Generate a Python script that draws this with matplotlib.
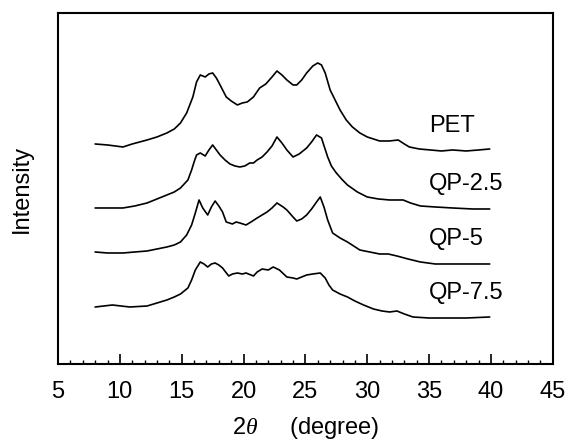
import matplotlib
matplotlib.use("Agg")
import matplotlib.pyplot as plt
from matplotlib.ticker import MultipleLocator
import numpy as np

plt.rcParams['font.family'] = ['Liberation Sans', 'DejaVu Sans']
plt.rcParams['mathtext.fontset'] = 'custom'
plt.rcParams['mathtext.it'] = 'Liberation Serif:italic'
plt.rcParams['mathtext.rm'] = 'Liberation Sans'

# 2theta readings (degree) and intensities above each curve's baseline (a.u.)
pet_x = [8.0, 9.0, 10.25, 11.0, 12.2, 13.0, 13.8, 14.4, 14.9, 15.4, 15.9, 16.2, 16.5, 16.9,
         17.2, 17.5, 17.8, 18.1, 18.6, 19.0, 19.5, 19.9, 20.3, 20.8, 21.3, 21.8, 22.3, 22.7,
         23.1, 23.5, 24.0, 24.3, 24.7, 25.1, 25.6, 26.0, 26.3, 26.6, 27.0, 27.4, 27.8, 28.3,
         28.8, 29.4, 30.0, 30.5, 31.0, 31.8, 32.5, 33.0, 33.4, 34.2, 35.1, 36.0, 36.9, 38.0,
         39.0, 39.9]
pet_y = [7, 6, 4, 7, 11, 14, 18, 22, 28, 38, 54, 69, 76, 74,
         77, 78, 73, 66, 54, 50, 46, 48, 49, 54, 63, 67, 74, 80,
         76, 71, 66, 66, 71, 78, 85, 88, 86, 78, 61, 51, 41, 31,
         24, 18, 14, 12, 10, 10, 11, 7, 4, 2, 1, 0, 1, 0,
         1, 2]

qp25_x = [8.0, 9.0, 10.25, 11.2, 12.2, 13.0, 13.8, 14.4, 14.9, 15.5, 15.8, 16.0, 16.2, 16.5,
          16.9, 17.2, 17.5, 17.8, 18.1, 18.5, 18.9, 19.3, 19.7, 20.1, 20.5, 20.8, 21.1, 21.5,
          21.9, 22.3, 22.7, 23.1, 23.5, 24.0, 24.5, 25.1, 25.5, 25.9, 26.3, 26.8, 27.1, 27.5,
          28.0, 28.4, 29.2, 30.0, 30.9, 31.8, 32.9, 33.5, 34.3, 35.5, 36.9, 38.5, 39.9]
qp25_y = [1, 1, 1, 3, 6, 10, 14, 17, 21, 29, 39, 47, 54, 56,
          53, 59, 64, 59, 54, 49, 45, 43, 42, 43, 46, 46, 49, 52,
          57, 63, 72, 66, 59, 52, 55, 61, 67, 74, 71, 52, 43, 36,
          29, 24, 17, 12, 10, 9, 9, 6, 3, 2, 1, 0, 0]

qp5_x = [8.0, 9.0, 10.25, 11.2, 12.2, 13.0, 13.8, 14.4, 14.9, 15.4, 15.8, 16.1, 16.4, 16.7,
         17.1, 17.4, 17.7, 18.0, 18.3, 18.6, 19.1, 19.4, 19.7, 20.2, 20.6, 21.1, 21.5, 21.9,
         22.3, 22.7, 23.2, 23.5, 24.0, 24.3, 24.7, 25.1, 25.5, 25.9, 26.2, 26.5, 26.8, 27.2,
         27.8, 28.4, 28.9, 29.4, 30.2, 31.0, 31.7, 32.4, 33.3, 34.3, 35.5, 36.9, 38.5, 39.9]
qp5_y = [12, 11, 11, 12, 13, 15, 17, 19, 22, 29, 39, 51, 64, 56,
         49, 57, 63, 58, 52, 42, 40, 42, 41, 39, 42, 46, 49, 52,
         56, 61, 57, 54, 47, 43, 45, 49, 55, 62, 67, 57, 44, 31,
         26, 22, 18, 14, 12, 10, 10, 8, 5, 2, 0, 0, 0, 0]

qp75_x = [8.0, 9.4, 10.8, 12.2, 13.0, 13.8, 14.4, 14.9, 15.5, 15.8, 16.1, 16.5, 16.8, 17.1,
          17.4, 17.7, 18.0, 18.3, 18.8, 19.1, 19.5, 19.9, 20.2, 20.8, 21.1, 21.5, 22.0, 22.4,
          22.9, 23.5, 24.0, 24.3, 24.7, 25.1, 25.6, 26.2, 26.6, 26.9, 27.2, 27.8, 28.4, 29.0,
          29.7, 30.5, 31.2, 31.8, 32.4, 33.0, 33.7, 35.0, 36.4, 38.0, 39.9]
qp75_y = [11, 13, 11, 12, 15, 18, 21, 24, 30, 38, 48, 56, 54, 51,
          54, 55, 53, 50, 42, 44, 45, 44, 45, 42, 46, 49, 48, 51,
          48, 41, 40, 39, 41, 43, 44, 45, 40, 33, 28, 24, 21, 17,
          13, 9, 7, 6, 7, 4, 1, 0, 0, 0, 1]

labels = ['PET', 'QP-2.5', 'QP-5', 'QP-7.5']
offsets = [213, 155, 100, 46]
curves = [(pet_x, pet_y), (qp25_x, qp25_y), (qp5_x, qp5_y), (qp75_x, qp75_y)]

fig = plt.figure(figsize=(5.7, 4.41), dpi=100)
ax = fig.add_axes([0.1018, 0.1746, 0.868, 0.796])

for (x, y), off, name in zip(curves, offsets, labels):
    ax.plot(x, np.array(y) + off, color='black', lw=1.2,
            solid_joinstyle='round', solid_capstyle='round')
    ax.text(35.0, off + 25, name, fontsize=17, va='center', ha='left')

ax.set_xlim(5, 45)
ax.set_ylim(0, 351)
ax.xaxis.set_major_locator(MultipleLocator(5))
ax.xaxis.set_minor_locator(MultipleLocator(1))
ax.tick_params(axis='x', which='major', direction='in', length=7, width=1.2,
               labelsize=17, pad=12, top=False)
ax.tick_params(axis='x', which='minor', direction='in', length=3.2, width=1.0, top=False)
ax.set_yticks([])
for s in ax.spines.values():
    s.set_linewidth(1.5)

ax.set_xlabel('2$\\mathit{\\theta}$     (degree)', fontsize=17, labelpad=9)
ax.set_ylabel('Intensity', fontsize=17, labelpad=18)

fig.savefig('out.png', dpi=100)
